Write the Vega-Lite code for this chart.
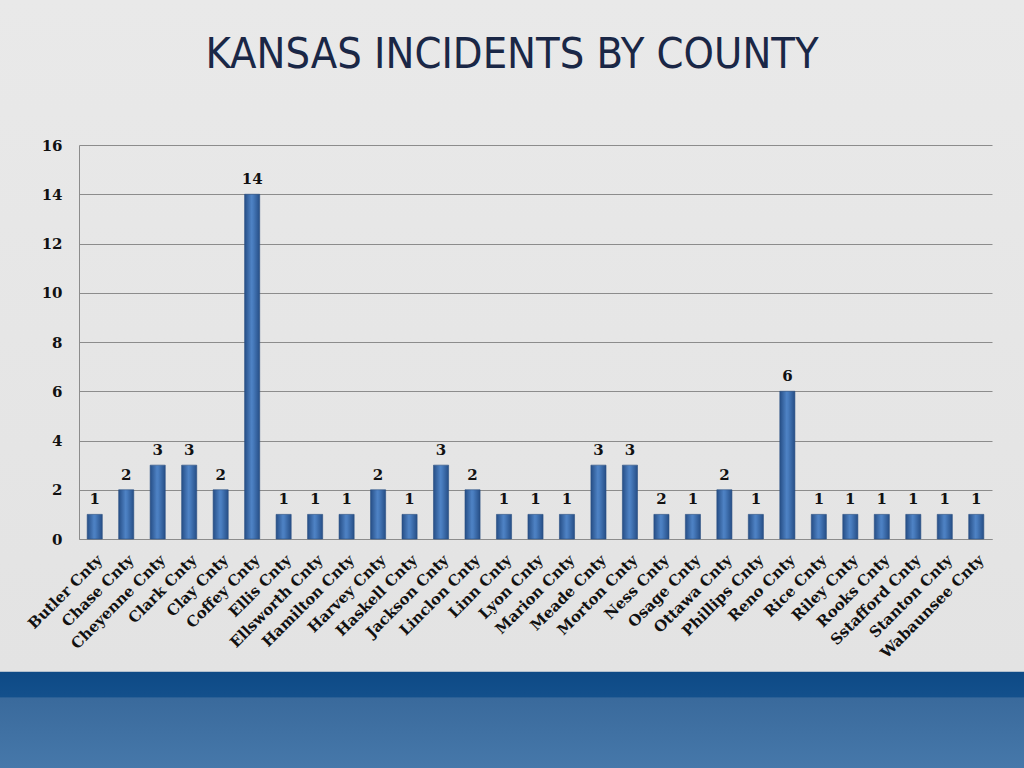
{
  "$schema": "https://vega.github.io/schema/vega-lite/v6.json",
  "width": 1024,
  "height": 768,
  "autosize": {"type": "none"},
  "padding": 0,
  "background": "#e6e6e6",
  "view": {
    "stroke": null,
    "fill": {
      "gradient": "linear",
      "x1": 0, "y1": 0, "x2": 0, "y2": 1,
      "stops": [
        {"offset": 0, "color": "#e9e9e9"},
        {"offset": 0.874, "color": "#e3e3e3"},
        {"offset": 0.8755, "color": "#0e4a86"},
        {"offset": 0.907, "color": "#13508c"},
        {"offset": 0.909, "color": "#3a6a9c"},
        {"offset": 1, "color": "#4678aa"}
      ]
    }
  },
  "title": {
    "text": "KANSAS INCIDENTS BY COUNTY",
    "font": "Liberation Sans Narrow, DejaVu Sans Condensed, sans-serif",
    "fontSize": 43,
    "fontWeight": "normal",
    "color": "#1a2746",
    "anchor": "middle",
    "baseline": "alphabetic",
    "offset": -68,
    "dy": 43
  },
  "data": {
    "values": [
      {"county": "Butler Cnty", "incidents": 1, "label": "1"},
      {"county": "Chase Cnty", "incidents": 2, "label": "2"},
      {"county": "Cheyenne Cnty", "incidents": 3, "label": "3"},
      {"county": "Clark Cnty", "incidents": 3, "label": "3"},
      {"county": "Clay Cnty", "incidents": 2, "label": "2"},
      {"county": "Coffey Cnty", "incidents": 14, "label": "14"},
      {"county": "Ellis Cnty", "incidents": 1, "label": "1"},
      {"county": "Ellsworth Cnty", "incidents": 1, "label": "1"},
      {"county": "Hamilton Cnty", "incidents": 1, "label": "1"},
      {"county": "Harvey Cnty", "incidents": 2, "label": "2"},
      {"county": "Haskell Cnty", "incidents": 1, "label": "1"},
      {"county": "Jackson Cnty", "incidents": 3, "label": "3"},
      {"county": "Linclon Cnty", "incidents": 2, "label": "2"},
      {"county": "Linn Cnty", "incidents": 1, "label": "1"},
      {"county": "Lyon Cnty", "incidents": 1, "label": "1"},
      {"county": "Marion Cnty", "incidents": 1, "label": "1"},
      {"county": "Meade Cnty", "incidents": 3, "label": "3"},
      {"county": "Morton Cnty", "incidents": 3, "label": "3"},
      {"county": "Ness Cnty", "incidents": 1, "label": "2"},
      {"county": "Osage Cnty", "incidents": 1, "label": "1"},
      {"county": "Ottawa Cnty", "incidents": 2, "label": "2"},
      {"county": "Phillips Cnty", "incidents": 1, "label": "1"},
      {"county": "Reno Cnty", "incidents": 6, "label": "6"},
      {"county": "Rice Cnty", "incidents": 1, "label": "1"},
      {"county": "Riley Cnty", "incidents": 1, "label": "1"},
      {"county": "Rooks Cnty", "incidents": 1, "label": "1"},
      {"county": "Sstafford Cnty", "incidents": 1, "label": "1"},
      {"county": "Stanton Cnty", "incidents": 1, "label": "1"},
      {"county": "Wabaunsee Cnty", "incidents": 1, "label": "1"}
    ]
  },
  "encoding": {
    "x": {
      "field": "county",
      "type": "nominal",
      "sort": null,
      "scale": {"range": [79, 992], "paddingInner": 0.52, "paddingOuter": 0.26},
      "axis": {
        "title": null,
        "labelAngle": -45,
        "labelFont": "DejaVu Serif",
        "labelFontWeight": "bold",
        "labelFontSize": 15,
        "labelColor": "#111111",
        "labelOverlap": false,
        "labelPadding": 13,
        "ticks": false,
        "domainColor": "#8c8c8c",
        "offset": -229
      }
    },
    "y": {
      "field": "incidents",
      "type": "quantitative",
      "scale": {"domain": [0, 16], "range": [539, 145], "nice": false},
      "axis": {
        "title": null,
        "values": [0, 2, 4, 6, 8, 10, 12, 14, 16],
        "labelFont": "DejaVu Serif",
        "labelFontWeight": "bold",
        "labelFontSize": 15,
        "labelColor": "#111111",
        "labelPadding": 17,
        "ticks": false,
        "domainColor": "#8c8c8c",
        "gridColor": "#8c8c8c",
        "gridOpacity": 1,
        "offset": -79
      }
    }
  },
  "layer": [
    {
      "mark": {
        "type": "bar",
        "stroke": "#2a4f82",
        "strokeWidth": 0.6,
        "color": {
          "gradient": "linear",
          "x1": 0, "y1": 0, "x2": 1, "y2": 0,
          "stops": [
            {"offset": 0, "color": "#264e86"},
            {"offset": 0.45, "color": "#4e82c4"},
            {"offset": 0.55, "color": "#497dbf"},
            {"offset": 1, "color": "#264e86"}
          ]
        }
      }
    },
    {
      "mark": {
        "type": "text",
        "dy": -10,
        "baseline": "alphabetic",
        "font": "DejaVu Serif",
        "fontWeight": "bold",
        "fontSize": 15,
        "color": "#111111"
      },
      "encoding": {"text": {"field": "label"}}
    }
  ]
}
